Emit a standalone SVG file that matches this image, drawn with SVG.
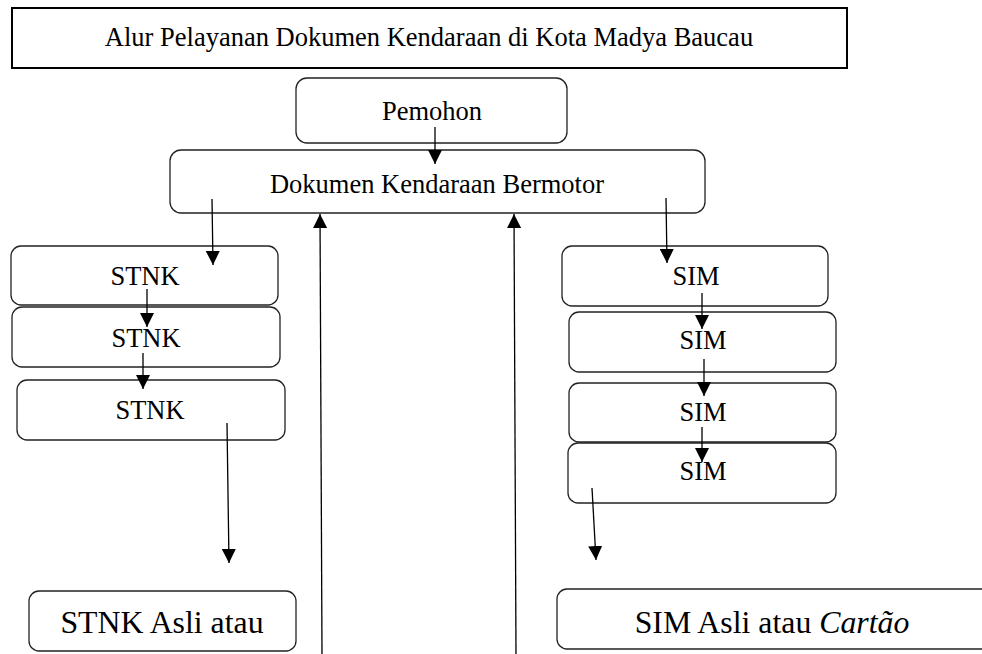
<svg xmlns="http://www.w3.org/2000/svg" width="982" height="654" viewBox="0 0 982 654">
<style>
.box{fill:#fff;stroke:#222;stroke-width:1.3}
.title{fill:#fff;stroke:#000;stroke-width:2}
text{font-family:"Liberation Serif","Times New Roman",serif;fill:#000;text-anchor:middle}
.t26{font-size:26.5px}
.t32{font-size:31.8px}
.conn{stroke:#000;stroke-width:1.3;fill:none;marker-end:url(#ah)}
</style>
<defs>
<marker id="ah" markerUnits="userSpaceOnUse" markerWidth="14" markerHeight="14" refX="14" refY="7" orient="auto">
<path d="M0,0 L14,7 L0,14 z" fill="#000"/>
</marker>
</defs>
<rect width="982" height="654" fill="#fff"/>
<g id="title">
<rect class="title" x="12" y="8" width="835" height="60"/>
<text class="t26" x="429" y="46">Alur Pelayanan Dokumen Kendaraan di Kota Madya Baucau</text>
</g>
<g id="pemohon">
<rect class="box" x="296" y="78" width="271" height="65" rx="11"/>
<text class="t26" x="432" y="120">Pemohon</text>
</g>
<g id="dokumen">
<rect class="box" x="170" y="150" width="535" height="63" rx="11"/>
<text class="t26" x="437" y="193">Dokumen Kendaraan Bermotor</text>
</g>
<g id="stnk1">
<rect class="box" x="11" y="246" width="267" height="59" rx="10"/>
<text class="t26" x="145" y="285">STNK</text>
</g>
<g id="stnk2">
<rect class="box" x="12" y="307" width="268" height="60" rx="10"/>
<text class="t26" x="146" y="347">STNK</text>
</g>
<g id="stnk3">
<rect class="box" x="17" y="380" width="268" height="60" rx="10"/>
<text class="t26" x="150" y="419">STNK</text>
</g>
<g id="sim1">
<rect class="box" x="562" y="246" width="266" height="60" rx="10"/>
<text class="t26" x="696" y="285">SIM</text>
</g>
<g id="sim2">
<rect class="box" x="569" y="312" width="267" height="60" rx="10"/>
<text class="t26" x="703" y="349">SIM</text>
</g>
<g id="sim3">
<rect class="box" x="569" y="383" width="267" height="59" rx="10"/>
<text class="t26" x="703" y="421">SIM</text>
</g>
<g id="sim4">
<rect class="box" x="568" y="443" width="268" height="60" rx="10"/>
<text class="t26" x="703" y="480">SIM</text>
</g>
<g id="stnk-asli">
<rect class="box" x="29" y="591" width="267" height="60" rx="10"/>
<text class="t32" x="162" y="633">STNK Asli atau</text>
</g>
<g id="sim-asli">
<rect class="box" x="557" y="589" width="440" height="60" rx="10"/>
<text class="t32" x="772" y="633">SIM Asli atau <tspan font-style="italic">Cartão</tspan></text>
</g>
<g id="connectors">
<line class="conn" x1="435" y1="127" x2="435" y2="164"/>
<line class="conn" x1="212" y1="199" x2="213" y2="265"/>
<line class="conn" x1="666" y1="198" x2="667" y2="263"/>
<line class="conn" x1="322" y1="654" x2="320" y2="214"/>
<line class="conn" x1="516" y1="654" x2="514" y2="214"/>
<line class="conn" x1="147" y1="289" x2="147" y2="327"/>
<line class="conn" x1="143" y1="353" x2="143" y2="389"/>
<line class="conn" x1="227" y1="423" x2="229" y2="563"/>
<line class="conn" x1="702" y1="293" x2="702" y2="329"/>
<line class="conn" x1="704" y1="359" x2="704" y2="396"/>
<line class="conn" x1="702" y1="427" x2="702" y2="462"/>
<line class="conn" x1="592" y1="488" x2="596" y2="560"/>
</g>
</svg>
